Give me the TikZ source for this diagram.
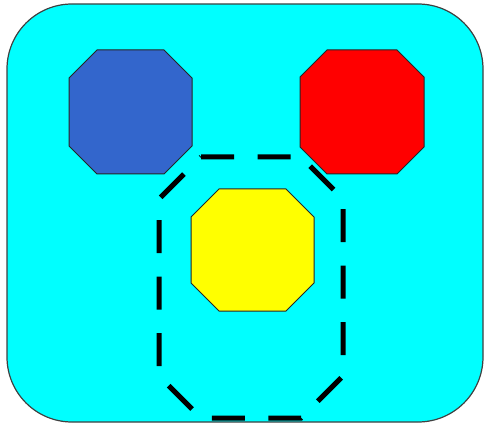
\documentclass[tikz,border=0pt]{standalone}
\definecolor{cyanbg}{HTML}{00FFFF}
\definecolor{blueoct}{HTML}{3366CC}
\definecolor{redoct}{HTML}{FF0000}
\definecolor{yellowoct}{HTML}{FFFF00}
\tikzset{
  octa/.style={draw=black!85, line width=1pt, line join=miter},
  frame/.style={draw=black!75, fill=cyanbg, line width=1.2pt, rounded corners=65pt},
  group/.style={draw=black, line width=5pt, dash pattern=on 33pt off 23.5pt},
}
\begin{document}
\begin{tikzpicture}[x=1pt,y=-1pt]
\useasboundingbox (0,0) rectangle (485,425);
\path[frame] (7,4) rectangle (483,422);
\path[octa, fill=blueoct] (97,50) -- (164,50) -- (192,78) -- (192,146) -- (164,174) -- (97,174) -- (69,146) -- (69,78) -- cycle;
\path[octa, fill=redoct] (327,50) -- (397,50) -- (424,77) -- (424,147) -- (397,174) -- (327,174) -- (300,147) -- (300,77) -- cycle;
\path[octa, fill=yellowoct] (219,189) -- (286,189) -- (314,217) -- (314,283) -- (286,311) -- (219,311) -- (191,283) -- (191,217) -- cycle;
\path[group] (201,157) -- (301,157) -- (343,199) -- (343,376) -- (301,418) -- (201,418) -- (159,376) -- (159,199) -- cycle;
\end{tikzpicture}
\end{document}
